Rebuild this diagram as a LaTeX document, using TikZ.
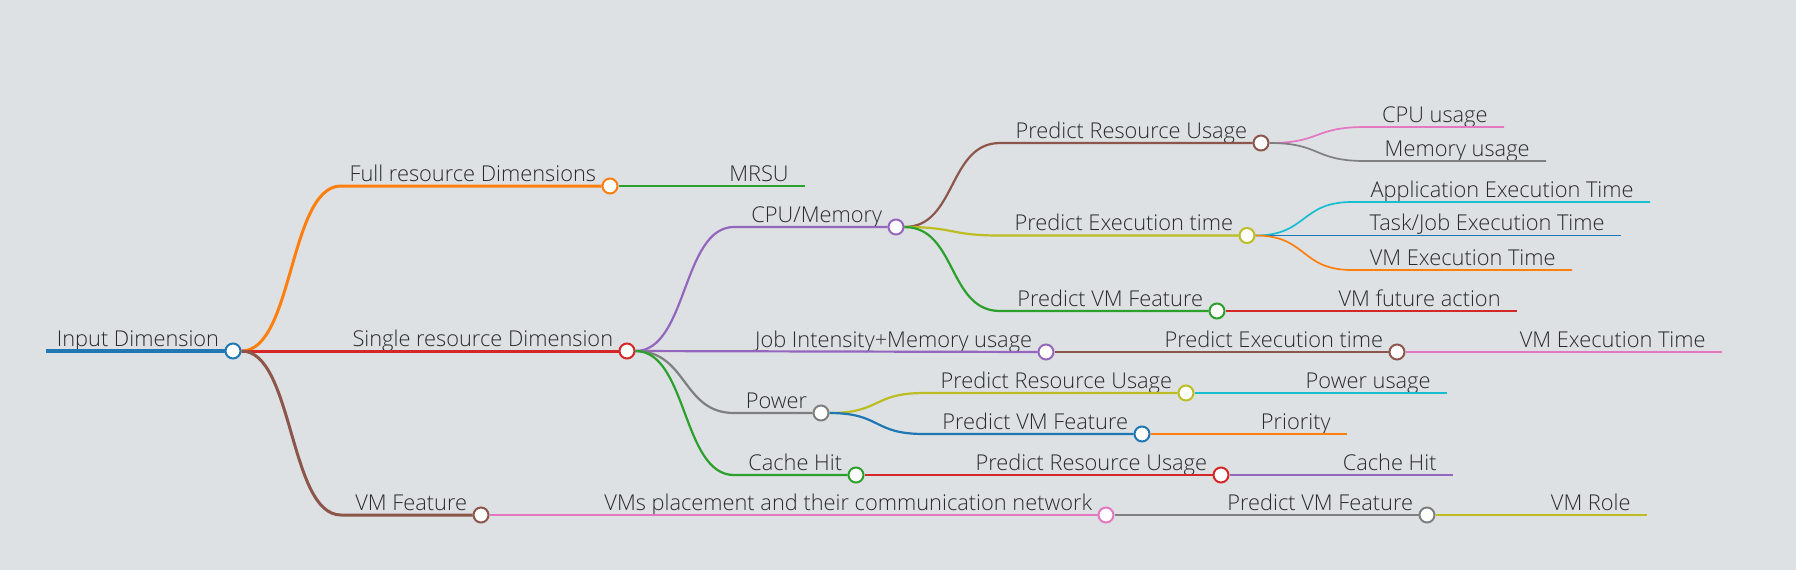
\documentclass[tikz,border=0pt]{standalone}
\usepackage{fontspec}
\setmainfont{Open Sans Light}
\usepackage{tikz}
\usetikzlibrary{positioning,calc}
\usepackage{xcolor}
\definecolor{bgc}{RGB}{221,225,228}
\definecolor{txt}{RGB}{42,42,42}
\definecolor{cblue}{HTML}{1F77B4}
\definecolor{corange}{HTML}{FF7F0E}
\definecolor{cgreen}{HTML}{2CA02C}
\definecolor{cred}{HTML}{D62728}
\definecolor{cpurple}{HTML}{9467BD}
\definecolor{cbrown}{HTML}{8C564B}
\definecolor{cpink}{HTML}{E377C2}
\definecolor{cgrey}{HTML}{7F7F7F}
\definecolor{colive}{HTML}{BCBD22}
\definecolor{ccyan}{HTML}{17BECF}

\begin{document}
\begin{tikzpicture}[x=0.5pt,y=-0.5pt,
  dot/.style={circle,draw=#1,fill=white,line width=1pt,minimum size=7.5pt,inner sep=0pt},
  lbl/.style={inner sep=0pt,anchor=base east,text=txt,font=\fontsize{10.9}{12}\selectfont},
  link/.style={to path={.. controls +(52,0) and +(-52,0) .. (\tikztotarget)}},
  w1/.style={line width=1.5pt}, w2/.style={line width=1.1pt}, w3/.style={line width=0.85pt}]
  \fill[bgc] (0,0) rectangle (1796,570);
  \useasboundingbox (0,0) rectangle (1796,570);
  % nodes with a circle
  \foreach \n/\x/\y/\c/\t in {root/233/351/cblue/{Input Dimension},
      full/610/186/corange/{Full resource Dimensions}, single/627/351/cred/{Single resource Dimension},
      vmf/481/515/cbrown/{VM Feature},
      cpu/896/227/cpurple/{CPU/Memory}, job/1046/352/cpurple/{Job Intensity+Memory usage},
      power/821/413/cgrey/{Power}, cache/856/475/cgreen/{Cache Hit},
      place/1106/515/cpink/{VMs placement and their communication network},
      pru1/1261/143/cbrown/{Predict Resource Usage}, pet1/1247/235.5/colive/{Predict Execution time},
      pvf1/1217/311/cgreen/{Predict VM Feature}, pet2/1397/352/cbrown/{Predict Execution time},
      pru2/1186/393/colive/{Predict Resource Usage}, pvf2/1142/434/cblue/{Predict VM Feature},
      pru3/1221/475/cred/{Predict Resource Usage}, pvf3/1427/515/cgrey/{Predict VM Feature}} {
    \node[dot=\c] (\n) at (\x,\y) {};
    \node[lbl] (\n-t) at ([shift={(-13.5,-5)}]\n.center) {\t};
  }
  % leaves
  \foreach \n/\x/\y/\t in {mrsu/805/186/MRSU, cpuu/1504/127/{CPU usage}, memu/1546/161/{Memory usage},
      app/1650/202/{Application Execution Time}, task/1621/235.5/{Task/Job Execution Time},
      vmet/1572/270/{VM Execution Time}, fut/1517/311/{VM future action},
      vmet2/1722/352/{VM Execution Time}, pwu/1447/393/{Power usage}, prio/1347/434/{Priority},
      chit/1453/475/{Cache Hit}, role/1647/515/{VM Role}} {
    \coordinate (\n-e) at (\x,\y);
    \node[lbl] (\n) at ([shift={(-16,-5)}]\n-e) {\t};
  }
  % starts of the curved branches
  \coordinate (root-s) at (46,351);
  \coordinate (full-s) at (341,186);
  \coordinate (vmf-s) at (341,515);
  \coordinate (cpu-s) at (734,227);
  \coordinate (power-s) at (734,413);
  \coordinate (cache-s) at (734,475);
  \coordinate (pru1-s) at (1000,143);
  \coordinate (pet1-s) at (1000,235.5);
  \coordinate (pvf1-s) at (1000,311);
  \coordinate (pru2-s) at (924,393);
  \coordinate (pvf2-s) at (924,434);
  \coordinate (cpuu-s) at (1365,127);
  \coordinate (memu-s) at (1365,161);
  \coordinate (app-s) at (1352,202);
  \coordinate (vmet-s) at (1352,270);

  \draw[cblue,line width=2pt] (root-s) -- (root);
  \draw[corange,w1,link] (root.east) to (full-s) -- (full);
  \draw[cred,w1] (root) -- (single);
  \draw[cbrown,w1,link] (root.east) to (vmf-s) -- (vmf);
  \draw[cgreen,w2] (full) -- (mrsu-e);
  \draw[cpurple,w2,link] (single.east) to (cpu-s) -- (cpu);
  \draw[cpurple,w2] (single) -- (job);
  \draw[cgrey,w2,link] (single.east) to (power-s) -- (power);
  \draw[cgreen,w2,link] (single.east) to (cache-s) -- (cache);
  \draw[cpink,w2] (vmf) -- (place);
  \draw[cbrown,w2,link] (cpu.east) to (pru1-s) -- (pru1);
  \draw[colive,w2,link] (cpu.east) to (pet1-s) -- (pet1);
  \draw[cgreen,w2,link] (cpu.east) to (pvf1-s) -- (pvf1);
  \draw[cbrown,w2] (job) -- (pet2);
  \draw[colive,w2,link] (power.east) to (pru2-s) -- (pru2);
  \draw[cblue,w2,link] (power.east) to (pvf2-s) -- (pvf2);
  \draw[cred,w2] (cache) -- (pru3);
  \draw[cgrey,w2] (place) -- (pvf3);
  \draw[cpink,w3,link] (pru1.east) to (cpuu-s) -- (cpuu-e);
  \draw[cgrey,w3,link] (pru1.east) to (memu-s) -- (memu-e);
  \draw[ccyan,w3,link] (pet1.east) to (app-s) -- (app-e);
  \draw[cblue,w3] (pet1) -- (task-e);
  \draw[corange,w3,link] (pet1.east) to (vmet-s) -- (vmet-e);
  \draw[cred,w3] (pvf1) -- (fut-e);
  \draw[cpink,w3] (pet2) -- (vmet2-e);
  \draw[ccyan,w3] (pru2) -- (pwu-e);
  \draw[corange,w3] (pvf2) -- (prio-e);
  \draw[cpurple,w3] (pru3) -- (chit-e);
  \draw[colive,w3] (pvf3) -- (role-e);
\end{tikzpicture}
\end{document}
